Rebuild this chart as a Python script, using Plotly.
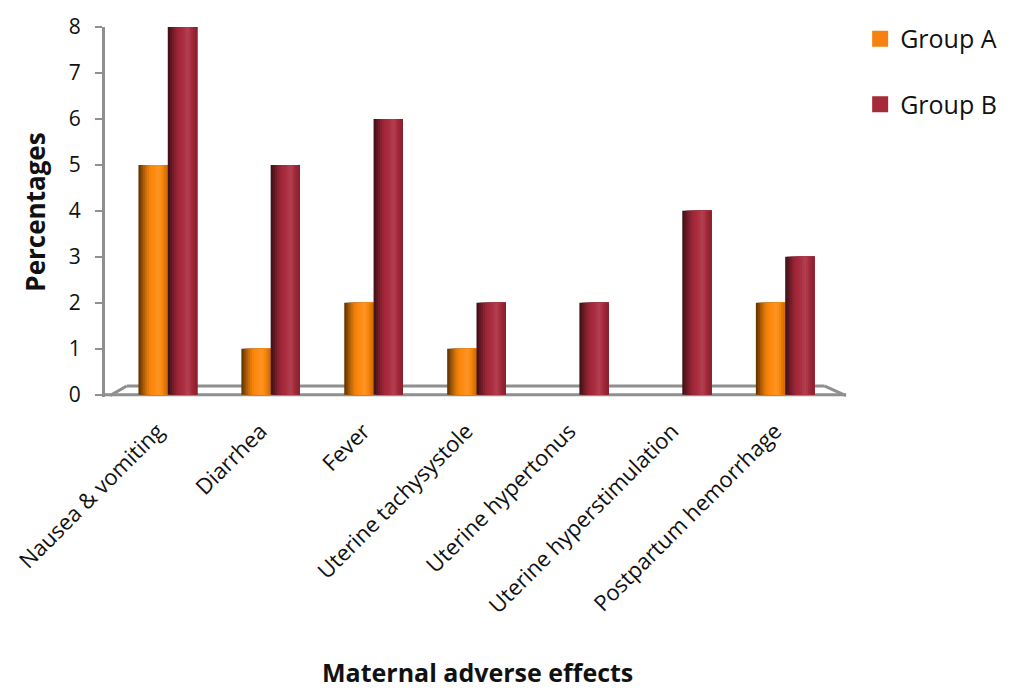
import plotly.graph_objects as go

# Maternal adverse effects (%) by group
categories = [
    "Nausea & vomiting",
    "Diarrhea",
    "Fever",
    "Uterine tachysystole",
    "Uterine hypertonus",
    "Uterine hyperstimulation",
    "Postpartum hemorrhage",
]
group_a = [5, 1, 2, 1, 0, 0, 2]
group_b = [8, 5, 6, 2, 2, 4, 3]

FONT = "Open Sans"
TEXT = "#111111"
AXIS_GREY = "#8f8f8f"

# Cylinder-style shading: each bar is built from vertical slices whose
# brightness follows a left-dark / right-highlight profile.
SHADE = [0.42, 0.55, 0.68, 0.8, 0.9, 0.97, 1.0, 1.03, 1.07, 1.1, 1.06, 0.98, 0.9, 0.82]
BAR_W = 0.285


def shade(rgb, f):
    if f <= 1:
        return "rgb(%d,%d,%d)" % tuple(int(c * f) for c in rgb)
    k = f - 1
    return "rgb(%d,%d,%d)" % tuple(int(c + (255 - c) * k) for c in rgb)


series = [
    ("Group A", group_a, (252, 136, 12), -BAR_W, "rgb(245,130,15)"),
    ("Group B", group_b, (168, 42, 60), 0.0, "rgb(165,42,58)"),
]

fig = go.Figure()
n = len(SHADE)
slice_w = BAR_W / n
for name, vals, rgb, off, swatch in series:
    for i, f in enumerate(SHADE):
        # each slice runs to the bar's right edge; later slices paint over it
        fig.add_trace(
            go.Bar(
                x=categories,
                y=vals,
                name=name,
                width=BAR_W - i * slice_w,
                offset=off + i * slice_w,
                marker=dict(color=shade(rgb, f), line=dict(width=0)),
                showlegend=False,
                legendgroup=name,
                hovertemplate=name + "<br>%{x}: %{y}%<extra></extra>",
            )
        )
    # legend swatch
    fig.add_trace(
        go.Scatter(
            x=[None],
            y=[None],
            mode="markers",
            name=name,
            legendgroup=name,
            marker=dict(symbol="square", size=16, color=swatch),
        )
    )

# 3-D style floor outline under the bars
floor = dict(type="line", xref="x", yref="y", line=dict(color=AXIS_GREY, width=3), layer="below")
back_y = 0.19
fig.add_shape(**floor, x0=-0.61, y0=0, x1=6.59, y1=0)
fig.add_shape(**floor, x0=-0.40, y0=back_y, x1=6.38, y1=back_y)
fig.add_shape(**floor, x0=-0.56, y0=-0.02, x1=-0.40, y1=back_y)
fig.add_shape(**floor, x0=6.38, y0=back_y, x1=6.59, y1=-0.02)

fig.update_layout(
    width=1014,
    height=691,
    barmode="overlay",
    plot_bgcolor="white",
    paper_bgcolor="white",
    font=dict(family=FONT, color=TEXT),
    margin=dict(l=105, r=161, t=21, b=294),
    showlegend=True,
    legend=dict(
        x=1.015,
        y=1.03,
        xanchor="left",
        yanchor="top",
        font=dict(family=FONT, size=25, color=TEXT),
        traceorder="grouped",
        tracegroupgap=30,
        itemwidth=30,
        bgcolor="rgba(0,0,0,0)",
    ),
    xaxis=dict(
        range=[-0.61, 6.62],
        showline=False,
        showgrid=False,
        zeroline=False,
        ticks="",
        tickangle=-45,
        ticklabelstandoff=16,
        ticklabelshift=-10,
        tickfont=dict(family=FONT, size=22, color=TEXT),
    ),
    yaxis=dict(
        range=[-0.05, 8],
        tickvals=[0, 1, 2, 3, 4, 5, 6, 7, 8],
        showline=True,
        linecolor=AXIS_GREY,
        linewidth=3,
        showgrid=False,
        zeroline=False,
        ticks="outside",
        ticklen=7,
        tickwidth=2,
        tickcolor=AXIS_GREY,
        ticklabelstandoff=10,
        tickfont=dict(family=FONT, size=21, color=TEXT),
        title=dict(text="<b>Percentages</b>", font=dict(family=FONT, size=26, color=TEXT), standoff=16),
    ),
)

fig.add_annotation(
    text="<b>Maternal adverse effects</b>",
    xref="paper",
    yref="paper",
    x=0.5,
    y=-0.742,
    xanchor="center",
    yanchor="middle",
    showarrow=False,
    font=dict(family=FONT, size=25, color=TEXT),
)

fig.write_html("out.html")
